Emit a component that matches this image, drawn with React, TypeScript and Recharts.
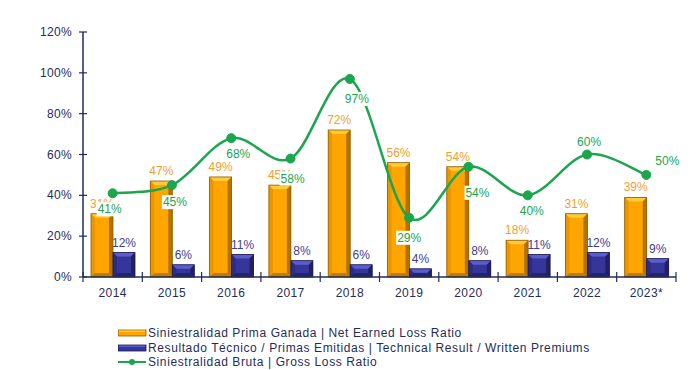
import React from "react";
import { ComposedChart, Bar, Line, XAxis, YAxis, LabelList } from "recharts";

// values (percent)
const years = ["2014", "2015", "2016", "2017", "2018", "2019", "2020", "2021", "2022", "2023*"];
const netEarnedLoss = [31, 47, 49, 45, 72, 56, 54, 18, 31, 39];
const technicalResult = [12, 6, 11, 8, 6, 4, 8, 11, 12, 9];
const grossLoss = [41, 45, 68, 58, 97, 29, 54, 40, 60, 50];
const yTicks = [0, 20, 40, 60, 80, 100, 120];

const data = years.map((year, i) => ({
  year,
  net: netEarnedLoss[i],
  tech: technicalResult[i],
  gross: grossLoss[i],
}));

// nudges for the green labels (Excel placed them by hand)
const grossLabelNudge = [
  [-3, 16], [3, 17], [7, 16], [2, 20], [7, 20],
  [0, 20], [9, 26], [4, 16], [2, -13], [21, -14],
];

const FONT = "'Liberation Sans', Arial, sans-serif";
const AXIS = "#1F2D5A";
const ORANGE_TEXT = "#F0A030";
const BLUE_TEXT = "#3E3E92";
const GREEN = "#1BA54D";

const orangeBar = { main: "#FFA500", top: "#FFCB3A", left: "#E99600", right: "#B47200", bottom: "#C27B00", edge: "#8C5A00" };
const blueBar = { main: "#36369A", top: "#5C5CCC", left: "#2C2C84", right: "#202062", bottom: "#24246C", edge: "#1A1A55" };

// Excel-like smoothed line (bezier through points, tension 1/6)
function excelSmooth(context: any) {
  let pts: number[][] = [];
  return {
    areaStart() {},
    areaEnd() {},
    lineStart() {
      pts = [];
    },
    point(x: number, y: number) {
      pts.push([+x, +y]);
    },
    lineEnd() {
      if (!pts.length) return;
      context.moveTo(pts[0][0], pts[0][1]);
      for (let i = 0; i < pts.length - 1; i++) {
        const p0 = pts[Math.max(i - 1, 0)];
        const p1 = pts[i];
        const p2 = pts[i + 1];
        const p3 = pts[Math.min(i + 2, pts.length - 1)];
        context.bezierCurveTo(
          p1[0] + (p2[0] - p0[0]) / 6,
          p1[1] + (p2[1] - p0[1]) / 6,
          p2[0] - (p3[0] - p1[0]) / 6,
          p2[1] - (p3[1] - p1[1]) / 6,
          p2[0],
          p2[1]
        );
      }
    },
  };
}

const bevelBar = (c: any) => (props: any) => {
  const { x, y, width: w, height: h } = props;
  if (!h || h <= 0) return <g />;
  const b = Math.min(4, h / 2, w / 4);
  return (
    <g>
      <rect x={x} y={y} width={w} height={h} fill={c.main} />
      <polygon points={`${x},${y} ${x + w},${y} ${x + w - b},${y + b} ${x + b},${y + b}`} fill={c.top} />
      <polygon points={`${x},${y} ${x + b},${y + b} ${x + b},${y + h - b} ${x},${y + h}`} fill={c.left} />
      <polygon points={`${x + w},${y} ${x + w},${y + h} ${x + w - b},${y + h - b} ${x + w - b},${y + b}`} fill={c.right} />
      <polygon points={`${x},${y + h} ${x + b},${y + h - b} ${x + w - b},${y + h - b} ${x + w},${y + h}`} fill={c.bottom} />
      <rect x={x} y={y} width={w} height={h} fill="none" stroke={c.edge} strokeWidth={0.8} />
    </g>
  );
};

const YTick = (props: any) => {
  const { x, y, payload } = props;
  const ax = x + 11;
  return (
    <g>
      <line x1={ax - 4} x2={ax + 4} y1={y} y2={y} stroke={AXIS} strokeWidth={1.2} />
      <text x={x} y={y + 4} textAnchor="end" fontSize={12} fill={AXIS} fontFamily={FONT} letterSpacing={0.3}>
        {payload.value}%
      </text>
    </g>
  );
};

const BAND = 593 / years.length;

const XTick = (props: any) => {
  const { x, y, payload, index } = props;
  const last = index === years.length - 1;
  return (
    <g>
      <line x1={x - BAND / 2} x2={x - BAND / 2} y1={y - 5} y2={y + 5} stroke={AXIS} strokeWidth={1.2} />
      {last && <line x1={x + BAND / 2} x2={x + BAND / 2} y1={y - 5} y2={y + 5} stroke={AXIS} strokeWidth={1.2} />}
      <text x={x} y={y + 20} textAnchor="middle" fontSize={12} fill={AXIS} fontFamily={FONT} letterSpacing={0.4}>
        {payload.value}
      </text>
    </g>
  );
};

const GrossLabel = (props: any) => {
  const { x, y, value, index } = props;
  const [dx, dy] = grossLabelNudge[index] || [0, 16];
  const cx = x + dx;
  const cy = y + dy;
  return (
    <g>
      <rect x={cx - 13} y={cy - 7} width={26} height={14} fill="#fff" />
      <text x={cx} y={cy + 4} textAnchor="middle" fontSize={12} fill={GREEN} fontFamily={FONT}>
        {value}%
      </text>
    </g>
  );
};

const legendItems = [
  { label: "Siniestralidad Prima Ganada | Net Earned Loss Ratio", kind: "bar", color: orangeBar },
  { label: "Resultado Técnico / Primas Emitidas | Technical Result / Written Premiums", kind: "bar", color: blueBar },
  { label: "Siniestralidad Bruta | Gross Loss Ratio", kind: "line", color: null },
];

export default function App() {
  return (
    <div style={{ position: "relative", width: 698, height: 370, background: "#fff", fontFamily: FONT }}>
      <style>{`body{margin:0}`}</style>
      <ComposedChart
        width={698}
        height={370}
        data={data}
        margin={{ top: 32, right: 22, bottom: 63, left: 0 }}
        barCategoryGap={8}
        barGap={0}
      >
        <XAxis
          dataKey="year"
          height={30}
          tickLine={false}
          tickSize={0}
          tickMargin={0}
          axisLine={{ stroke: AXIS, strokeWidth: 1.5 }}
          tick={<XTick />}
          interval={0}
        />
        <YAxis
          width={83}
          domain={[0, 120]}
          ticks={yTicks}
          tickLine={false}
          tickSize={0}
          tickMargin={11}
          axisLine={{ stroke: AXIS, strokeWidth: 1.5 }}
          tick={<YTick />}
          interval={0}
        />
        <Bar dataKey="net" isAnimationActive={false} shape={bevelBar(orangeBar)}>
          <LabelList
            dataKey="net"
            position="top"
            offset={6}
            formatter={(v: any) => `${v}%`}
            style={{ fill: ORANGE_TEXT, fontSize: 12, fontFamily: FONT }}
          />
        </Bar>
        <Bar dataKey="tech" isAnimationActive={false} shape={bevelBar(blueBar)}>
          <LabelList
            dataKey="tech"
            position="top"
            offset={6}
            formatter={(v: any) => `${v}%`}
            style={{ fill: BLUE_TEXT, fontSize: 12, fontFamily: FONT }}
          />
        </Bar>
        <Line
          dataKey="gross"
          type={excelSmooth as any}
          stroke={GREEN}
          strokeWidth={2.5}
          dot={{ r: 4.5, fill: GREEN, stroke: GREEN, strokeWidth: 1 }}
          activeDot={false}
          isAnimationActive={false}
        >
          <LabelList dataKey="gross" content={<GrossLabel />} />
        </Line>
      </ComposedChart>
      <div
        style={{
          position: "absolute",
          left: 118,
          top: 326,
          fontSize: 12,
          color: AXIS,
          lineHeight: "14.5px",
          letterSpacing: "0.6px",
        }}
      >
        {legendItems.map((item) => (
          <div key={item.label} style={{ display: "flex", alignItems: "center", whiteSpace: "nowrap" }}>
            <svg width={29} height={10} style={{ marginRight: 1 }}>
              {item.kind === "bar" ? (
                <g>
                  <rect x={0} y={2} width={28} height={6} fill={item.color!.main} stroke={item.color!.edge} strokeWidth={0.8} />
                  <rect x={1} y={2.5} width={26} height={1.5} fill={item.color!.top} />
                </g>
              ) : (
                <g>
                  <line x1={0} x2={28} y1={5} y2={5} stroke={GREEN} strokeWidth={2} />
                  <circle cx={14} cy={5} r={3} fill={GREEN} />
                </g>
              )}
            </svg>
            <span>{item.label}</span>
          </div>
        ))}
      </div>
    </div>
  );
}
